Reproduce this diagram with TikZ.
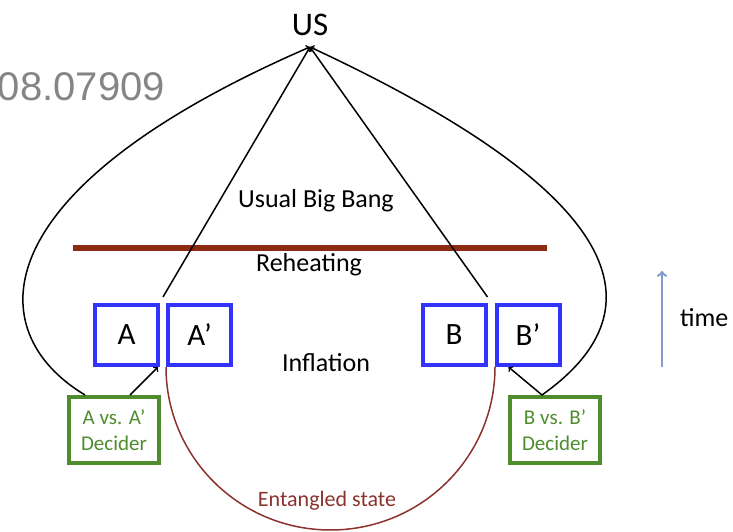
\documentclass[tikz,border=0pt]{standalone}
\usepackage{fontspec}
\setmainfont{Carlito}
\newfontfamily\arxivfont{Liberation Sans}
\usetikzlibrary{positioning}
\definecolor{boxblue}{RGB}{51,51,255}
\definecolor{decgreen}{RGB}{78,140,46}
\definecolor{heatred}{RGB}{140,42,20}
\definecolor{statered}{RGB}{140,50,45}
\definecolor{timeblue}{RGB}{128,158,204}

\begin{document}
\begin{tikzpicture}[x=1pt, y=1pt,
  region/.style={draw=boxblue, line width=4pt, minimum width=63pt, minimum height=60pt,
    inner sep=0pt, font=\fontsize{31}{34}\selectfont},
  decider/.style={draw=decgreen, line width=4pt, minimum width=90pt, minimum height=66pt,
    inner sep=0pt, align=center, text=decgreen, font=\fontsize{21}{26}\selectfont},
  era/.style={font=\fontsize{26}{30}\selectfont},
  link/.style={line width=1.5pt, ->},
]
  \useasboundingbox (0,0) rectangle (733,532);

  % Observer and paper id
  \node[font=\fontsize{33}{36}\selectfont, anchor=south, inner sep=0pt] (US) at (310,496) {US};
  \coordinate (apex) at (310,485);
  \node[font=\arxivfont\fontsize{40}{44}\selectfont, text=black!48, anchor=base east,
    inner sep=0pt] (arxiv) at (165,431) {08.07909};

  % Eras
  \node[era, anchor=base] (bigbang) at (316,324) {Usual Big Bang};
  \draw[heatred, line width=6pt] (73,284) -- (547,284);
  \node[era, anchor=base] (reheat) at (309,260) {Reheating};
  \node[era, anchor=base] (inflation) at (326,160) {Inflation};

  % Regions
  \node[region] (A) at (126.5,197) {A};
  \node[region, right=6pt of A] (Ap) {A’};
  \node[region] (B) at (454,197) {B};
  \node[region, right=7pt of B] (Bp) {B’};

  % Deciders
  \node[decider] (Adec) at (114,102) {A vs. A’\\Decider};
  \node[decider] (Bdec) at (555,102) {B vs. B’\\Decider};

  % Entangled state
  \draw[statered, line width=1.5pt] (Ap.south west) arc[start angle=180, end angle=360,
    x radius=164.5, y radius=163];
  \node[font=\fontsize{22}{26}\selectfont, text=statered, anchor=base] (entangled) at (327,25)
    {Entangled state};

  % Signals to us
  \coordinate (Agap) at ([xshift=3pt, yshift=6pt]A.north east);
  \coordinate (Bgap) at ([yshift=6pt]B.north east);
  \draw[link] (Agap) -- (apex);
  \draw[link] (Bgap) -- (apex);
  \draw[link] ([xshift=-29pt]Adec.north) .. controls +(-105,63) and +(-330,-143) .. (apex);
  \draw[link] ([xshift=-13pt]Bdec.north) .. controls +(103,73) and +(350,-163) .. (apex);
  \draw[link] ([xshift=16pt]Adec.north) -- ([xshift=-2pt]A.south east);
  \draw[link] ([xshift=-13pt]Bdec.north) -- ([xshift=14pt]Bp.south west);

  % Time direction
  \draw[timeblue, line width=2.5pt, ->] (662,165) -- (662,261);
  \node[era, anchor=base west, inner sep=0pt] (time) at (680,205) {time};
\end{tikzpicture}
\end{document}
